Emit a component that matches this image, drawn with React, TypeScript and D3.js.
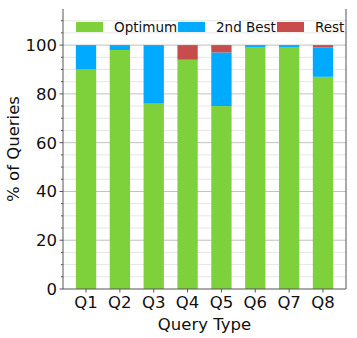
import React, { useEffect, useRef } from 'react';
import * as d3 from 'd3';

// chart data
const categories = ['Q1', 'Q2', 'Q3', 'Q4', 'Q5', 'Q6', 'Q7', 'Q8'];
const optimum = [90, 98, 76, 94, 75, 99, 99, 87];
const secondBest = [10, 2, 24, 0, 22, 1, 1, 12];
const rest = [0, 0, 0, 6, 3, 0, 0, 1];
const seriesNames = ['Optimum', '2nd Best', 'Rest'];
const yTicks = [0, 20, 40, 60, 80, 100];

const colors = ['#7fd13b', '#00aaff', '#c94c4c'];

const App = () => {
    const ref = useRef<SVGSVGElement>(null);

    useEffect(() => {
        const svg = d3.select(ref.current);
        svg.selectAll('*').remove();

        const left = 63, right = 346, top = 9, bottom = 289;
        const font = 'DejaVu Sans, sans-serif';

        const x = d3.scaleLinear().domain([-0.68, categories.length - 1 + 0.68]).range([left, right]);
        const y = d3.scaleLinear().domain([0, 114.8]).range([bottom, top]);
        const barW = x(0.6) - x(0);

        // grid
        const g = svg.append('g');
        const minor = d3.range(5, 115, 5).filter(v => v % 20 !== 0);
        g.selectAll('line.minor').data(minor).enter().append('line')
            .attr('x1', left).attr('x2', right)
            .attr('y1', d => y(d)).attr('y2', d => y(d))
            .attr('stroke', '#e6e6e6').attr('stroke-width', 1);
        g.selectAll('line.major').data(yTicks.slice(1)).enter().append('line')
            .attr('x1', left).attr('x2', right)
            .attr('y1', d => y(d)).attr('y2', d => y(d))
            .attr('stroke', '#b0b0b0').attr('stroke-width', 0.8);

        // stacked bars
        const rows = categories.map((c, i) => ({ key: c, i, a: optimum[i], b: secondBest[i], c: rest[i] }));
        const stack = d3.stack<any>().keys(['a', 'b', 'c'])(rows);
        stack.forEach((layer, k) => {
            svg.append('g').selectAll('rect').data(layer).enter().append('rect')
                .attr('x', d => x(d.data.i) - barW / 2)
                .attr('width', barW)
                .attr('y', d => y(d[1]))
                .attr('height', d => y(d[0]) - y(d[1]))
                .attr('fill', colors[k]);
        });

        // spines
        svg.append('line').attr('x1', left).attr('x2', left).attr('y1', top).attr('y2', bottom)
            .attr('stroke', '#555').attr('stroke-width', 1);
        svg.append('line').attr('x1', right).attr('x2', right).attr('y1', top).attr('y2', bottom)
            .attr('stroke', '#555').attr('stroke-width', 1);
        svg.append('line').attr('x1', left).attr('x2', right).attr('y1', bottom).attr('y2', bottom)
            .attr('stroke', '#555').attr('stroke-width', 1);

        // y ticks
        svg.selectAll('line.ytm').data(minor).enter().append('line')
            .attr('x1', left - 2).attr('x2', left).attr('y1', d => y(d)).attr('y2', d => y(d))
            .attr('stroke', '#555');
        svg.selectAll('line.ytM').data(yTicks).enter().append('line')
            .attr('x1', left - 3.5).attr('x2', left).attr('y1', d => y(d)).attr('y2', d => y(d))
            .attr('stroke', '#555');
        svg.selectAll('text.yt').data(yTicks).enter().append('text')
            .attr('x', left - 6).attr('y', d => y(d)).attr('dy', '0.36em')
            .attr('text-anchor', 'end').attr('font-family', font).attr('font-size', 16.5)
            .attr('fill', '#111').text(d => d);

        // x ticks
        svg.selectAll('line.xt').data(categories).enter().append('line')
            .attr('x1', (d, i) => x(i)).attr('x2', (d, i) => x(i))
            .attr('y1', bottom).attr('y2', bottom + 3.5).attr('stroke', '#555');
        svg.selectAll('text.xt').data(categories).enter().append('text')
            .attr('x', (d, i) => x(i)).attr('y', bottom + 19)
            .attr('text-anchor', 'middle').attr('font-family', font).attr('font-size', 16.5)
            .attr('fill', '#111').text(d => d);

        // axis labels
        svg.append('text').attr('x', (left + right) / 2).attr('y', 330)
            .attr('text-anchor', 'middle').attr('font-family', font).attr('font-size', 16.5)
            .attr('fill', '#111').text('Query Type');
        svg.append('text').attr('transform', `translate(19, ${(top + bottom) / 2}) rotate(-90)`)
            .attr('text-anchor', 'middle').attr('font-family', font).attr('font-size', 16.5)
            .attr('fill', '#111').text('% of Queries');

        // legend
        const legX = [76, 178, 277];
        const leg = svg.append('g');
        seriesNames.forEach((name, k) => {
            leg.append('rect').attr('x', legX[k]).attr('y', 22).attr('width', 27).attr('height', 10)
                .attr('fill', colors[k]);
            leg.append('text').attr('x', legX[k] + 38).attr('y', 27).attr('dy', '0.36em')
                .attr('font-family', font).attr('font-size', 13.5).attr('fill', '#111').text(name);
        });
    }, []);

    return (
        <svg ref={ref} width={357} height={338} style={{ position: 'absolute', left: 0, top: 0, background: '#fff' }} />
    );
};

export default App;
